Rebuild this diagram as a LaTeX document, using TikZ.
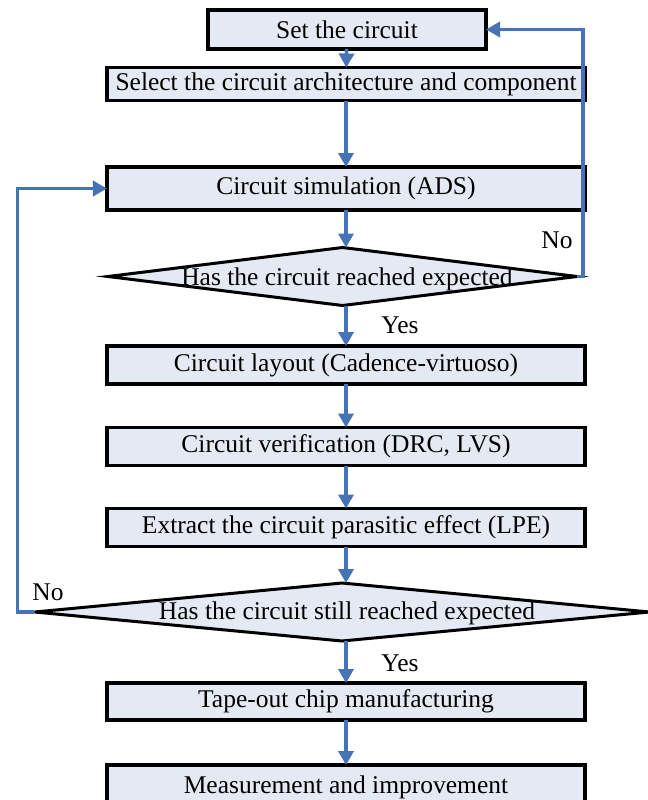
\documentclass[tikz,border=0pt]{standalone}
\usepackage{fontspec}
\setmainfont{Liberation Serif}
\usetikzlibrary{arrows.meta,shapes.geometric}
\definecolor{boxfill}{RGB}{228,233,243}
\definecolor{flowblue}{RGB}{70,114,182}
\begin{document}
\begin{tikzpicture}[x=1bp,y=-1bp,
  every node/.style={font=\fontsize{25.6}{30}\selectfont},
  stepbox/.style={draw=black, line width=3.6bp, fill=boxfill, minimum width=478bp,
    minimum height=38bp, inner sep=0pt, outer sep=0pt},
  decision/.style={diamond, draw=black, line width=3bp, fill=boxfill,
    inner sep=0pt, outer sep=0pt},
  flow/.style={draw=flowblue, line width=3.6bp, -{Triangle[width=15bp,length=14bp]}},
  lbl/.style={inner sep=0pt}]
\useasboundingbox (0,0) rectangle (648,800);
\clip (0,0) rectangle (648,800);
\fill[white] (0,0) rectangle (648,800);

% process steps and decisions
\node[stepbox, minimum width=278bp, minimum height=39bp] (set) at (347,29.5) {Set the circuit};
\node[stepbox, minimum height=33bp] (sel) at (346,84) {Select the circuit architecture and component};
\node[stepbox, minimum height=43bp] (sim) at (346,188.5) {Circuit simulation (ADS)};
\node[decision, minimum width=469bp, minimum height=58bp] (d1) at (342.5,276.5) {};
\node[lbl] (d1t) at (347,279) {Has the circuit reached expected};
\node[stepbox] (lay) at (346,365) {Circuit layout (Cadence-virtuoso)};
\node[stepbox] (ver) at (346,446.5) {Circuit verification (DRC, LVS)};
\node[stepbox] (lpe) at (346,527.5) {Extract the circuit parasitic effect (LPE)};
\node[decision, minimum width=615bp, minimum height=58bp] (d2) at (342,612) {};
\node[lbl] (d2t) at (347,613) {Has the circuit still reached expected};
\node[stepbox, minimum height=37bp] (tape) at (346,701.5) {Tape-out chip manufacturing};
\node[stepbox, minimum height=45bp] (meas) at (346,787.5) {Measurement and improvement};

% main flow
\draw[flow] (set) -- (sel);
\draw[flow] (sel) -- (sim);
\draw[flow] (sim.south) -- (sim.south |- d1.north);
\draw[flow] (sim.south |- d1.south) -- (lay.north);
\draw[flow] (lay) -- (ver);
\draw[flow] (ver) -- (lpe);
\draw[flow] (lpe.south) -- (lpe.south |- d2.north);
\draw[flow] (lpe.south |- d2.south) -- (tape.north);
\draw[flow] (tape) -- (meas);

% feedback loops
\draw[flow] (d1.east) -- ++(6,0) |- (set.east);
\draw[flow] (d2.west) -- ++(-17,0) |- (sim.west);

% branch labels
\node[lbl] (no1) at (557,240) {No};
\node[lbl] (yes1) at (400,325) {Yes};
\node[lbl] (no2) at (48,592) {No};
\node[lbl] (yes2) at (400,663) {Yes};
\end{tikzpicture}
\end{document}
